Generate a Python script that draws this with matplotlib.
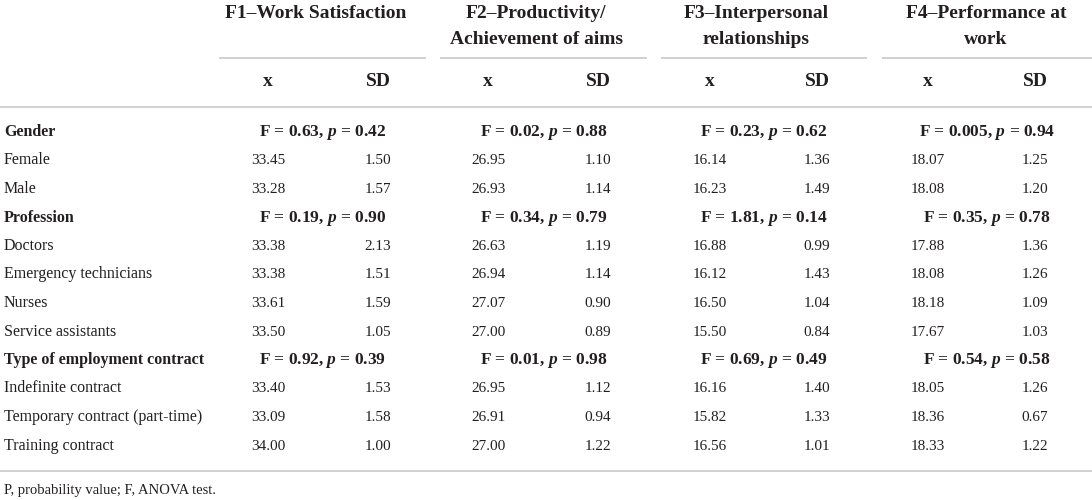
import matplotlib
matplotlib.use("Agg")
import matplotlib.pyplot as plt

plt.rcParams["font.family"] = ["Liberation Serif", "DejaVu Serif"]
plt.rcParams["mathtext.fontset"] = "custom"
plt.rcParams["mathtext.rm"] = "Liberation Serif:bold"
plt.rcParams["mathtext.it"] = "Liberation Serif:italic:bold"
plt.rcParams["mathtext.bf"] = "Liberation Serif:bold"

# ---- data ----
factors = ["F1\u2013Work Satisfaction",
           "F2\u2013Productivity/\nAchievement of aims",
           "F3\u2013Interpersonal\nrelationships",
           "F4\u2013Performance at\nwork"]

row_labels = ["Gender", "Female", "Male",
              "Profession", "Doctors", "Emergency technicians", "Nurses", "Service assistants",
              "Type of employment contract", "Indefinite contract",
              "Temporary contract (part-time)", "Training contract"]
section_rows = [0, 3, 8]

# F statistic / p value per section (rows) and factor (columns)
f_values = [["0.63", "0.02", "0.23", "0.005"],
            ["0.19", "0.34", "1.81", "0.35"],
            ["0.92", "0.01", "0.69", "0.54"]]
p_values = [["0.42", "0.88", "0.62", "0.94"],
            ["0.90", "0.79", "0.14", "0.78"],
            ["0.39", "0.98", "0.49", "0.58"]]

# means (x) and SD per data row, one list per factor
f1_x = ["33.45", "33.28", "33.38", "33.38", "33.61", "33.50", "33.40", "33.09", "34.00"]
f1_sd = ["1.50", "1.57", "2.13", "1.51", "1.59", "1.05", "1.53", "1.58", "1.00"]
f2_x = ["26.95", "26.93", "26.63", "26.94", "27.07", "27.00", "26.95", "26.91", "27.00"]
f2_sd = ["1.10", "1.14", "1.19", "1.14", "0.90", "0.89", "1.12", "0.94", "1.22"]
f3_x = ["16.14", "16.23", "16.88", "16.12", "16.50", "15.50", "16.16", "15.82", "16.56"]
f3_sd = ["1.36", "1.49", "0.99", "1.43", "1.04", "0.84", "1.40", "1.33", "1.01"]
f4_x = ["18.07", "18.08", "17.88", "18.08", "18.18", "17.67", "18.05", "18.36", "18.33"]
f4_sd = ["1.25", "1.20", "1.36", "1.26", "1.09", "1.03", "1.26", "0.67", "1.22"]

means = [f1_x, f2_x, f3_x, f4_x]
sds = [f1_sd, f2_sd, f3_sd, f4_sd]

footnote = "P, probability value; F, ANOVA test."

# ---- layout (pixel coordinates) ----
W, H = 1092, 500
ink = "#231f20"
rule = "#c4c4c4"

group_spans = [(219, 426), (440, 647), (661, 867), (882, 1092)]
title_x = [316, 536, 756, 986]
col_x = [268, 488, 710, 928]
col_sd = [378, 598, 817, 1035]

row_base0, row_dy = 136, 28.5

fig = plt.figure(figsize=(W / 100, H / 100), dpi=100)
ax = fig.add_axes([0, 0, 1, 1])
ax.set_xlim(0, W)
ax.set_ylim(H, 0)
ax.axis("off")

# header
for k, name in enumerate(factors):
    for j, line in enumerate(name.split("\n")):
        ax.text(title_x[k], 18 + j * 26, line, ha="center", va="baseline",
                fontsize=14, fontweight="bold", color=ink)
    x0, x1 = group_spans[k]
    ax.plot([x0, x1], [58, 58], color=rule, lw=1.1, solid_capstyle="butt")
    ax.text(col_x[k], 86, "x", ha="center", va="baseline", fontsize=14,
            fontweight="bold", color=ink)
    ax.text(col_sd[k], 86, "SD", ha="center", va="baseline", fontsize=14,
            fontweight="bold", color=ink)

ax.plot([0, W], [107, 107], color=rule, lw=1.1, solid_capstyle="butt")
ax.plot([0, W], [471, 471], color=rule, lw=1.1, solid_capstyle="butt")

# body
d = 0
s = 0
for i, label in enumerate(row_labels):
    y = row_base0 + i * row_dy
    if i in section_rows:
        ax.text(4, y, label, ha="left", va="baseline", fontsize=11.5,
                fontweight="bold", color=ink)
        for k in range(4):
            txt = f"F = {f_values[s][k]}, $p$ = {p_values[s][k]}"
            ax.text((group_spans[k][0] + group_spans[k][1]) / 2, y, txt,
                    ha="center", va="baseline", fontsize=12.5, fontweight="bold",
                    color=ink)
        s += 1
    else:
        ax.text(4, y, label, ha="left", va="baseline", fontsize=11.5, color=ink)
        for k in range(4):
            ax.text(col_x[k], y, means[k][d], ha="center", va="baseline",
                    fontsize=11, color=ink)
            ax.text(col_sd[k], y, sds[k][d], ha="center", va="baseline",
                    fontsize=11, color=ink)
        d += 1

ax.text(4, 494, footnote, ha="left", va="baseline", fontsize=10.5, color=ink)

fig.savefig("out.png", dpi=100)
